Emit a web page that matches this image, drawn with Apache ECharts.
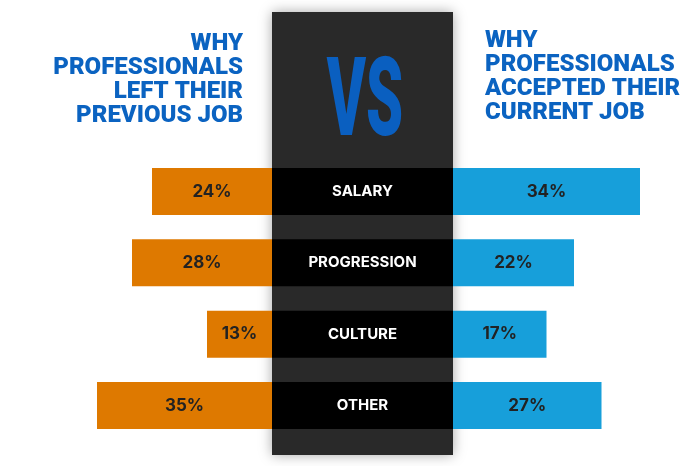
<!DOCTYPE html>
<html>
<head>
<meta charset="utf-8">
<script src="https://cdn.jsdelivr.net/npm/echarts@6/dist/echarts.min.js"></script>
<style>
html,body{margin:0;padding:0;background:#fff;}
#chart{width:700px;height:466px;}
</style>
</head>
<body>
<div id="chart"></div>
<script>
var categories = ['SALARY', 'PROGRESSION', 'CULTURE', 'OTHER'];
var leftValues = [24, 28, 13, 35];
var rightValues = [34, 22, 17, 27];
var leftTitle = 'WHY\nPROFESSIONALS\nLEFT THEIR\nPREVIOUS JOB';
var rightTitle = 'WHY\nPROFESSIONALS\nACCEPTED THEIR\nCURRENT JOB';
var vsText = 'VS';

var chart = echarts.init(document.getElementById('chart'), null, {renderer: 'canvas'});
var gridTop = 155.8, gridBottom = 24.8;
var valueLabel = {
  show: true, position: 'inside', formatter: '{c}%',
  color: '#222', fontSize: 17, fontWeight: 'bold', fontFamily: 'Inter, Roboto, sans-serif'
};
var titleFont = '900 24px Roboto, sans-serif';
var option = {
  animation: false,
  backgroundColor: '#ffffff',
  graphic: [
    {type: 'rect', z: -10, shape: {x: 272, y: 12, width: 181, height: 443},
     style: {fill: '#292929', shadowBlur: 12, shadowColor: 'rgba(0,0,0,0.35)'}},
    {type: 'text', z: 10, x: 365, y: 107, scaleX: 0.54,
     style: {text: vsText, fill: '#0a5fc0', font: '900 110px Roboto, sans-serif',
             textAlign: 'center', textVerticalAlign: 'middle',
             shadowBlur: 6, shadowColor: 'rgba(0,0,0,0.6)'}},
    {type: 'text', z: 10, x: 243, y: 32,
     style: {text: leftTitle, fill: '#0b63c1', font: titleFont, lineHeight: 24,
             textAlign: 'right', textVerticalAlign: 'top'}},
    {type: 'text', z: 10, x: 485, y: 29,
     style: {text: rightTitle, fill: '#0b63c1', font: titleFont, lineHeight: 24,
             textAlign: 'left', textVerticalAlign: 'top'}}
  ],
  grid: [
    {left: 72, right: 428, top: gridTop, bottom: gridBottom},
    {left: 272, right: 247, top: gridTop, bottom: gridBottom},
    {left: 453, right: 27, top: gridTop, bottom: gridBottom}
  ],
  xAxis: [
    {gridIndex: 0, type: 'value', min: 0, max: 40, inverse: true, show: false},
    {gridIndex: 1, type: 'value', min: 0, max: 1, show: false},
    {gridIndex: 2, type: 'value', min: 0, max: 40, show: false}
  ],
  yAxis: [
    {gridIndex: 0, type: 'category', data: categories, inverse: true, show: false},
    {gridIndex: 1, type: 'category', data: categories, inverse: true, show: false},
    {gridIndex: 2, type: 'category', data: categories, inverse: true, show: false}
  ],
  series: [
    {type: 'bar', xAxisIndex: 0, yAxisIndex: 0, data: leftValues, barWidth: 47,
     itemStyle: {color: '#de7900'}, label: valueLabel, silent: true},
    {type: 'bar', xAxisIndex: 1, yAxisIndex: 1, data: categories.map(function(){return 1;}), barWidth: 47,
     itemStyle: {color: '#000000'}, silent: true,
     label: {show: true, position: 'inside', formatter: '{b}', color: '#ffffff', fontSize: 15,
             fontWeight: 'bold', fontFamily: 'Inter, Roboto, sans-serif'}},
    {type: 'bar', xAxisIndex: 2, yAxisIndex: 2, data: rightValues, barWidth: 47,
     itemStyle: {color: '#179fda'}, label: valueLabel, silent: true}
  ]
};
chart.setOption(option);
</script>
</body>
</html>
